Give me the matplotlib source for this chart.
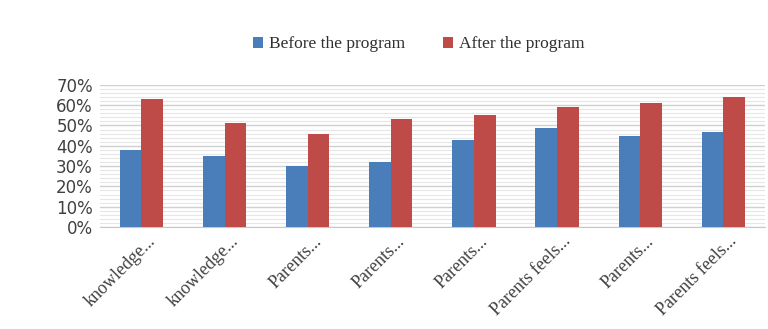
import numpy as np
import matplotlib.pyplot as plt
from matplotlib.ticker import MultipleLocator, PercentFormatter
from matplotlib.transforms import ScaledTranslation

categories = ['knowledge...', 'knowledge...', 'Parents...', 'Parents...',
              'Parents...', 'Parents feels...', 'Parents...', 'Parents feels...']
before = [38, 35, 30, 32, 43, 49, 45, 47]
after = [63, 51, 46, 53, 55, 59, 61, 64]
series_names = ['Before the program', 'After the program']

BLUE = '#4a7ebb'
RED = '#be4b48'

fig = plt.figure(figsize=(7.68, 3.29), dpi=100)
ax = fig.add_axes([0.130, 0.310, 0.866, 0.432])

x = np.arange(len(categories))
w = 0.26
ax.bar(x - w / 2, before, w, color=BLUE, label=series_names[0], zorder=3)
ax.bar(x + w / 2, after, w, color=RED, label=series_names[1], zorder=3)

ax.set_xlim(-0.5, len(categories) - 0.5)
ax.set_ylim(0, 70)
ax.yaxis.set_major_locator(MultipleLocator(10))
ax.yaxis.set_minor_locator(MultipleLocator(2))
ax.yaxis.set_major_formatter(PercentFormatter(decimals=0))
ax.grid(axis='y', which='major', color='#d0d0d0', linewidth=1.0, zorder=0)
ax.grid(axis='y', which='minor', color='#e6e6e6', linewidth=0.8, zorder=0)

for side in ['top', 'right', 'left']:
    ax.spines[side].set_visible(False)
ax.spines['bottom'].set_color('#c8c8c8')
ax.tick_params(axis='both', which='both', length=0)
ax.tick_params(axis='y', labelsize=12, labelcolor='#404040', pad=5)

ax.set_xticks(x)
ax.set_xticklabels(categories, rotation=45, ha='right', rotation_mode='anchor',
                   fontsize=13, family='Liberation Serif', color='#404040')
ax.tick_params(axis='x', pad=4)
# shift the slanted labels a little to the right of each group centre
shift = ScaledTranslation(5 / 100, 0, fig.dpi_scale_trans)
for lbl in ax.get_xticklabels():
    lbl.set_transform(lbl.get_transform() + shift)

fig.legend(loc='center', bbox_to_anchor=(0.545, 0.865), ncol=2, frameon=False,
           prop={'family': 'Liberation Serif', 'size': 12.5}, handlelength=0.6,
           handleheight=0.6, handletextpad=0.3, columnspacing=2.2,
           labelcolor='#303030')

fig.savefig('out.png', dpi=100)
